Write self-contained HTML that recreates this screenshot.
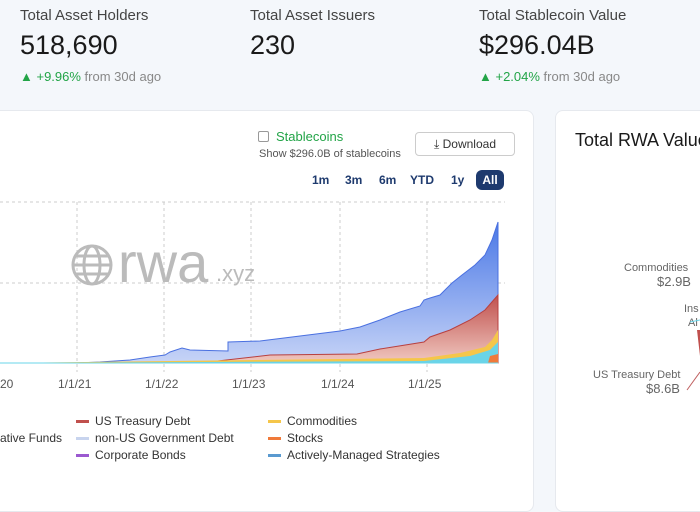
<!DOCTYPE html><html><head><style>
body{margin:0;width:700px;height:500px;overflow:hidden;background:#f4f7fb;font-family:"Liberation Sans",sans-serif;position:relative}
.a{position:absolute;white-space:nowrap}
.lbl{font-size:15px;color:#444}
.big{font-size:27px;color:#1a1a1a}
.ch{font-size:13px;color:#888}.ch b{color:#22a447;font-weight:normal}
.card{position:absolute;background:#fff;border:1px solid #e6e9ee;border-radius:8px}
.leg{font-size:12px;color:#333}
.sw{display:inline-block;width:13px;height:3px;margin-right:6px;vertical-align:middle}
</style></head><body>
<div class="a lbl" style="left:20px;top:7px">Total Asset Holders</div>
<div class="a big" style="left:20px;top:30px">518,690</div>
<div class="a ch" style="left:20px;top:69px"><b>▲ +9.96%</b> from 30d ago</div>
<div class="a lbl" style="left:250px;top:7px">Total Asset Issuers</div>
<div class="a big" style="left:250px;top:30px">230</div>
<div class="a lbl" style="left:479px;top:7px">Total Stablecoin Value</div>
<div class="a big" style="left:479px;top:30px">$296.04B</div>
<div class="a ch" style="left:479px;top:69px"><b>▲ +2.04%</b> from 30d ago</div>

<div class="card" style="left:-10px;top:110px;width:542px;height:400px"></div>
<div class="card" style="left:555px;top:110px;width:160px;height:400px"></div>
<div class="a" style="left:575px;top:130px;font-size:18px;color:#1a1a1a">Total RWA Value</div>

<div class="a" style="left:258px;top:131px;width:9px;height:9px;border:1px solid #999;border-radius:2px"></div>
<div class="a" style="left:276px;top:129px;font-size:13px;color:#22a447">Stablecoins</div>
<div class="a" style="left:259px;top:148px;font-size:11px;color:#555">Show $296.0B of stablecoins</div>
<div class="a" style="left:415px;top:132px;width:98px;height:22px;border:1px solid #ccc;border-radius:4px;font-size:12px;color:#333;line-height:22px;text-align:center">⤓ Download</div>
<div class="a" style="left:312px;top:173px;font-size:12px;font-weight:bold;color:#1e3a6e">1m</div>
<div class="a" style="left:345px;top:173px;font-size:12px;font-weight:bold;color:#1e3a6e">3m</div>
<div class="a" style="left:379px;top:173px;font-size:12px;font-weight:bold;color:#1e3a6e">6m</div>
<div class="a" style="left:410px;top:173px;font-size:12px;font-weight:bold;color:#1e3a6e">YTD</div>
<div class="a" style="left:451px;top:173px;font-size:12px;font-weight:bold;color:#1e3a6e">1y</div>
<div class="a" style="left:476px;top:170px;width:28px;height:20px;background:#1e3a6e;border-radius:6px;color:#fff;font-size:12px;font-weight:bold;line-height:20px;text-align:center">All</div>

<svg class="a" style="left:0;top:0" width="700" height="500">
<g stroke="#ccc" stroke-dasharray="3,3" fill="none">
<line x1="0" y1="202" x2="505" y2="202"/><line x1="0" y1="283" x2="505" y2="283"/>
<line x1="77" y1="202" x2="77" y2="372"/><line x1="164" y1="202" x2="164" y2="372"/><line x1="251" y1="202" x2="251" y2="372"/><line x1="340" y1="202" x2="340" y2="372"/><line x1="427" y1="202" x2="427" y2="372"/>
</g>
<g fill="none" stroke="#bbb" stroke-width="3"><circle cx="92" cy="265" r="19"/><ellipse cx="92" cy="265" rx="8" ry="19"/><line x1="73" y1="265" x2="111" y2="265"/><line x1="76" y1="256" x2="108" y2="256"/><line x1="76" y1="274" x2="108" y2="274"/></g>
<text x="118" y="282" font-family="Liberation Sans" font-size="56" fill="#bbb">rwa</text>
<text x="216" y="281" font-family="Liberation Sans" font-size="22" fill="#bbb">.xyz</text>
<defs><linearGradient id="g" x1="0" y1="0" x2="0" y2="1"><stop offset="0" stop-color="#4a78e6"/><stop offset="1" stop-color="#c7d4f7"/></linearGradient>
<linearGradient id="r" x1="0" y1="0" x2="0" y2="1"><stop offset="0" stop-color="#c0504d"/><stop offset="1" stop-color="#f0c8c0"/></linearGradient></defs>
<polygon fill="url(#g)" stroke="#4a70e0" points="0,363 77,363 100,362 130,360 150,357 165,355 170,352 182,348 190,350 228,351 228,342 260,341 300,336 340,331 360,327 380,320 400,312 420,306 424,300 430,298 440,295 452,283 462,275 475,265 485,255 492,240 498,222 498,363"/>
<polygon fill="url(#r)" stroke="#b84040" points="0,363 200,363 270,355 357,354 380,349 424,342 430,337 450,330 470,320 485,310 498,295 498,363"/>
<polygon fill="#f5c64a" points="0,363 424,358 460,353 485,347 492,340 498,330 498,363"/>
<polygon fill="#6ad4e8" points="0,363 424,361 470,356 490,350 498,342 498,363"/>
<polygon fill="#f07a3a" points="488,363 490,356 498,354 498,363"/>
<line x1="0" y1="363" x2="498" y2="363" stroke="#6ad4e8"/>
<g font-family="Liberation Sans" font-size="12" fill="#555"><text x="0" y="388">20</text><text x="58" y="388">1/1/21</text><text x="145" y="388">1/1/22</text><text x="232" y="388">1/1/23</text><text x="321" y="388">1/1/24</text><text x="408" y="388">1/1/25</text></g>
<g font-family="Liberation Sans" font-size="11" fill="#666"><text x="624" y="271">Commodities</text><text x="657" y="286" font-size="13">$2.9B</text><text x="684" y="312">Ins</text><text x="688" y="326">Al</text><text x="593" y="378">US Treasury Debt</text><text x="646" y="393" font-size="13">$8.6B</text></g>
<polyline points="690,322 700,320" stroke="#6ad4e8" fill="none"/>
<polyline points="687,390 700,372" stroke="#c06060" fill="none"/>
<polygon points="697,330 700,330 700,356" fill="#c0504d"/>
</svg>
<div class="a leg" style="left:0;top:431px">ative Funds</div>
<div class="a leg" style="left:76px;top:414px"><span class="sw" style="background:#c0504d"></span>US Treasury Debt</div>
<div class="a leg" style="left:76px;top:431px"><span class="sw" style="background:#c8d4ee"></span>non-US Government Debt</div>
<div class="a leg" style="left:76px;top:448px"><span class="sw" style="background:#9b59d0"></span>Corporate Bonds</div>
<div class="a leg" style="left:268px;top:414px"><span class="sw" style="background:#f5c64a"></span>Commodities</div>
<div class="a leg" style="left:268px;top:431px"><span class="sw" style="background:#f07a3a"></span>Stocks</div>
<div class="a leg" style="left:268px;top:448px"><span class="sw" style="background:#5a9ad0"></span>Actively-Managed Strategies</div>
</body></html>
